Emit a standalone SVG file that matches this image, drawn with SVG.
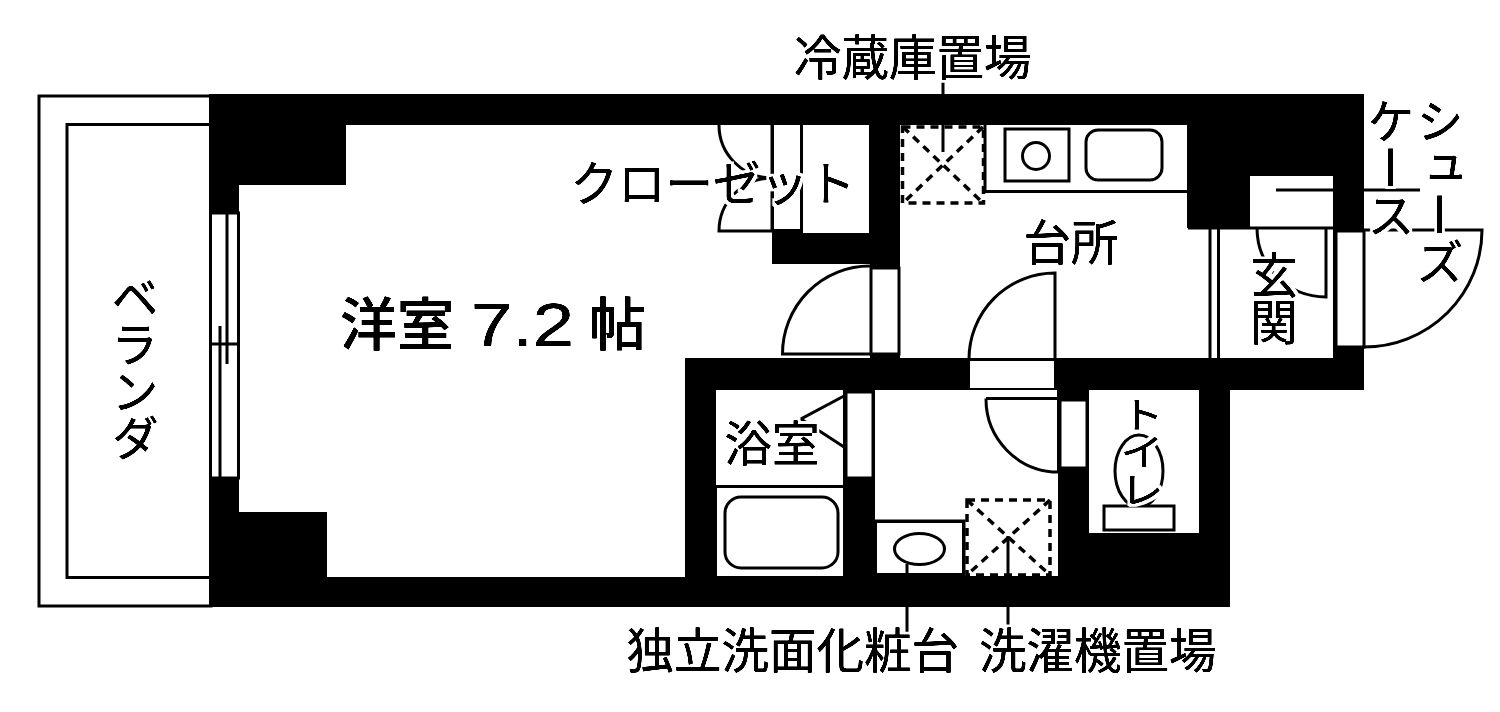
<svg xmlns="http://www.w3.org/2000/svg" width="1500" height="712" viewBox="0 0 1500 712">
<style>
.w{fill:#fff;stroke:none}
.l{fill:none;stroke:#000;stroke-width:3}
.b{fill:#fff;stroke:#000;stroke-width:3}
.d{fill:none;stroke:#000;stroke-width:3.500;stroke-dasharray:8 6}
text{font-family:"Noto Sans CJK JP","Noto Sans",sans-serif;font-size:47.500px;fill:#000}
.v{writing-mode:vertical-rl;text-orientation:upright;letter-spacing:-.5px}
.big{font-size:57px}
</style>
<defs>
<filter id="ink" filterUnits="userSpaceOnUse" x="0" y="0" width="1500" height="712" color-interpolation-filters="sRGB">
<feMorphology in="SourceAlpha" operator="dilate" radius="3" result="grow"/>
<feFlood flood-color="#fff"/>
<feComposite in2="grow" operator="in" result="halo"/>
<feGaussianBlur in="SourceAlpha" stdDeviation="0.6"/>
<feComponentTransfer result="ink"><feFuncA type="linear" slope="2.400"/></feComponentTransfer>
<feMerge><feMergeNode in="halo"/><feMergeNode in="ink"/></feMerge>
</filter>
</defs>
<rect width="1500" height="712" fill="#fff"/>
<g id="veranda">
<rect class="l" x="39" y="96" width="172" height="510"/>
<rect class="l" x="67" y="124.500" width="144" height="453"/>
</g>
<path id="walls" fill="#000" d="M209 94H1364V390H1230V607H209Z"/>
<g id="rooms">
<path class="w" d="M346 125H772V264H870V358H685V577H327V512H239V185H346Z"/>
<path class="w" d="M900 125H1187V228H1333V358H900Z"/>
<rect class="w" x="1250" y="176" width="83" height="52"/>
<rect class="w" x="716" y="390" width="127" height="95"/>
<rect class="w" x="717" y="488" width="126" height="88"/>
<path class="w" d="M875 390H1058V576H965V521H875Z"/>
<rect class="w" x="877" y="523" width="85" height="50"/>
<rect class="w" x="1089" y="390" width="110" height="143"/>
<rect class="w" x="803" y="125" width="66" height="108"/>
</g>
<g id="closet">
<path class="l" d="M772 125V231"/>
<path class="w" d="M774 125H800V229H774Z"/>
<path class="l" d="M719 125A53 53 0 0 0 772 178"/>
<path class="l" d="M772 178A53 53 0 0 0 719 231H772"/>
</g>
<g id="window">
<rect class="b" x="210.500" y="213" width="28" height="265"/>
<path class="l" d="M227 213V364M220 326V478M210 344H238"/>
</g>
<g id="door-room">
<rect class="b" x="871" y="268" width="28" height="86"/>
<path class="l" d="M870 266A87 88 0 0 0 782.500 354H870"/>
</g>
<g id="door-kitchen">
<rect class="w" x="970" y="361" width="84" height="27"/>
<path class="l" d="M969 359.500H1055V273A86 86 0 0 0 969 359.500"/>
</g>
<g id="kitchen">
<path class="l" d="M985 125V191.500H1187"/>
<rect class="l" x="1005" y="129" width="64" height="52"/>
<circle class="l" cx="1036" cy="156" r="13.500"/>
<rect class="l" x="1086" y="130" width="76" height="50" rx="12"/>
</g>
<g id="fridge">
<rect class="d" x="902.500" y="127" width="81" height="76"/>
<path class="d" d="M903 127L983 203M983 127L903 203"/>
</g>
<g id="entrance">
<path class="l" d="M1210 228V358M1218.500 228V358M1188 228H1333"/>
<path class="l" d="M1276 190H1333"/>
<path class="l" d="M1326 228V297A69 69 0 0 1 1257 228"/>
<rect class="b" x="1336" y="231" width="28" height="116"/>
<path class="l" d="M1364 347A118 117 0 0 0 1482 230H1364"/>
<path class="l" d="M1364 190H1420"/>
</g>
<g id="bath">
<rect class="l" x="725" y="497" width="113" height="71" rx="16"/>
<path class="l" d="M844 396L801 419L844 447"/>
<rect class="b" x="846" y="392" width="27" height="86"/>
</g>
<g id="wash">
<path class="l" d="M875 521H964V576"/>
<ellipse class="l" cx="919.500" cy="549" rx="25" ry="15.500"/>
<rect class="d" x="967" y="500" width="83" height="75"/>
<path class="d" d="M967 500L1050 575M1050 500L967 575"/>
<path class="l" d="M1058.500 390V472M986 398.500H1058.500M986 398.500A72.500 73 0 0 0 1058.500 472"/>
<rect class="b" x="1060" y="400" width="27" height="68"/>
</g>
<g id="toilet">
<ellipse class="l" cx="1139" cy="471" rx="24" ry="36"/>
<rect class="b" x="1104" y="506" width="70" height="24"/>
</g>
<g id="connectors">
<path class="l" d="M943 76V94M943 125V152M907 564V573M907 607V632M1008 536V576M1008 607V632"/>
</g>
<g id="labels" filter="url(#ink)">
<text x="794" y="75">冷蔵庫置場</text>
<text x="570.500" y="201">クローゼット</text>
<text x="1023.500" y="260">台所</text>
<text x="724.500" y="461">浴室</text>
<text x="626.500" y="668">独立洗面化粧台</text>
<text x="979" y="668">洗濯機置場</text>
<text class="big" x="340" y="345" font-weight="500">洋室</text>
<text x="471" y="346" textLength="103" lengthAdjust="spacingAndGlyphs" style="font-size:61px;font-family:'Liberation Sans',sans-serif">7.2</text>
<text class="big" x="589" y="345" font-weight="500">帖</text>
<text class="v" x="135" y="273">ベランダ</text>
<text class="v" x="1274" y="251">玄関</text>
<text class="v" x="1391" y="97">ケース</text>
<text class="v" x="1440" y="97">シューズ</text>
<text class="v" transform="translate(1142,396) scale(1,.85)" style="font-size:44px;letter-spacing:0">トイレ</text>
</g>
</svg>
